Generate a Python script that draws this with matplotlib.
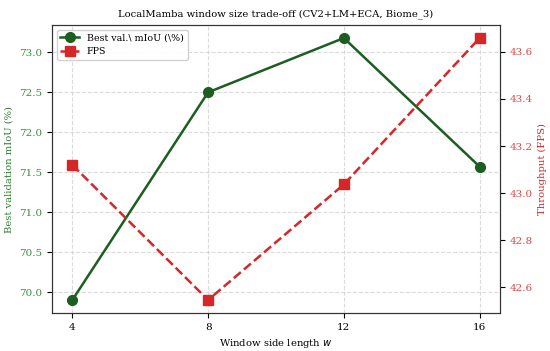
import matplotlib
matplotlib.use("Agg")
import matplotlib.pyplot as plt

# window side length vs. metrics
window = [4, 8, 12, 16]
miou = [69.90, 72.50, 73.18, 71.57]
fps = [43.12, 42.547, 43.037, 43.658]

green = '#1b5e20'
red = '#d62728'

plt.rcParams['font.family'] = 'DejaVu Serif'
plt.rcParams['font.size'] = 7.5

fig, ax = plt.subplots(figsize=(5.5, 3.51), dpi=100)
fig.subplots_adjust(left=0.0945, right=0.909, top=0.929, bottom=0.108)

l1, = ax.plot(window, miou, color=green, lw=1.8, marker='o', ms=7,
              label='Best val.\\ mIoU (\\%)')
ax.set_xlabel('Window side length $w$', fontsize=7.2)
ax.set_ylabel('Best validation mIoU (%)', color='#2e7d32', fontsize=7.2)
ax.tick_params(axis='y', labelcolor='#3d8b40')
ax.set_xticks(window)
ax.grid(True, linestyle='--', color='#cccccc', alpha=0.7, lw=0.8)

ax2 = ax.twinx()
l2, = ax2.plot(window, fps, color=red, lw=1.8, ls='--', marker='s', ms=6.5,
               label='FPS')
ax2.set_ylabel('Throughput (FPS)', color=red, fontsize=7.2)
ax2.tick_params(axis='y', labelcolor='#e04545')

for a in (ax, ax2):
    for s in a.spines.values():
        s.set_color('#333333')

ax.set_title('LocalMamba window size trade-off (CV2+LM+ECA, Biome_3)', fontsize=7.2)
ax.legend(handles=[l1, l2], loc='upper left', framealpha=0.9, fontsize=6.8)

fig.savefig('out.png', dpi=100)
plt.close()
